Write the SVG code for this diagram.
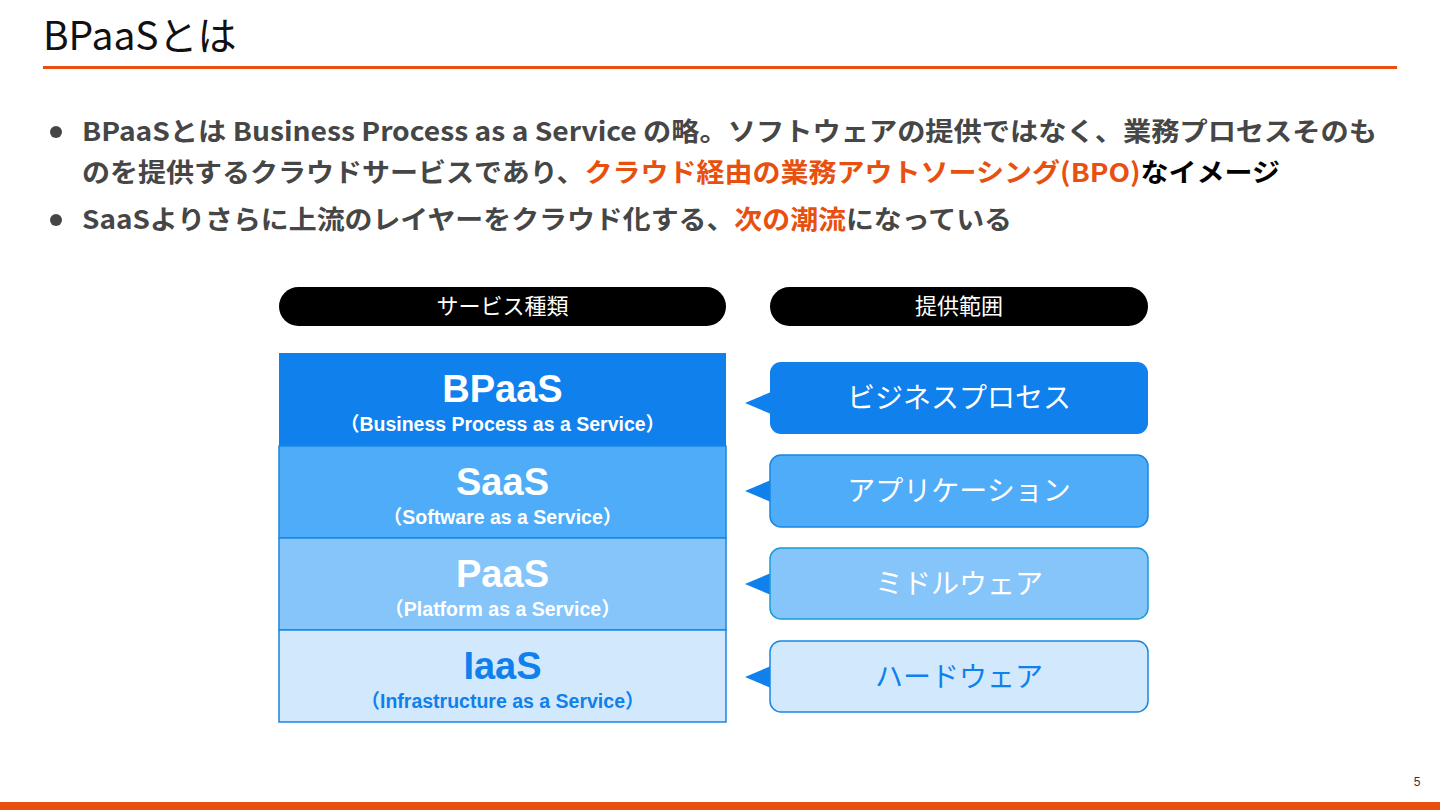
<svg xmlns="http://www.w3.org/2000/svg" width="1440" height="810" viewBox="0 0 1440 810">
<style>
.title{font-family:"Noto Sans CJK JP","Noto Sans",sans-serif;font-size:39px;fill:#111}
.bul{font-family:"Noto Sans CJK JP","Noto Sans",sans-serif;font-size:26px;font-weight:bold;fill:#464646}
.hl{fill:#e8500f}
.blk{fill:#000}
.hdr{font-family:"Noto Sans CJK JP",sans-serif;font-size:22px;fill:#fff;text-anchor:middle}
.big{font-family:"Liberation Sans","Noto Sans CJK JP",sans-serif;font-size:38px;font-weight:bold;text-anchor:middle}
.sub{font-family:"Liberation Sans","Noto Sans CJK JP",sans-serif;font-size:19.5px;font-weight:bold;text-anchor:middle}
.cl{font-family:"Noto Sans CJK JP",sans-serif;font-size:28px;text-anchor:middle}
.ptr{fill:#0f80ec}
</style>
<rect width="1440" height="810" fill="#fff"/>
<text class="title" x="43" y="50">BPaaSとは</text>
<rect x="43" y="66" width="1354" height="3" fill="#e8500f"/>
<rect x="0" y="802" width="1440" height="8" fill="#e8500f"/>
<text x="1417" y="786" font-family="Liberation Sans,sans-serif" font-size="12" fill="#333" text-anchor="middle">5</text>

<g id="bullets">
<circle cx="56" cy="132" r="6" fill="#464646"/>
<text class="bul" x="82" y="141" textLength="1295" lengthAdjust="spacingAndGlyphs">BPaaSとは Business Process as a Service の略。ソフトウェアの提供ではなく、業務プロセスそのも</text>
<text class="bul" x="82" y="182" textLength="1198" lengthAdjust="spacingAndGlyphs">のを提供するクラウドサービスであり、<tspan class="hl">クラウド経由の業務アウトソーシング(BPO)</tspan><tspan class="blk">なイメージ</tspan></text>
<circle cx="56" cy="220" r="6" fill="#464646"/>
<text class="bul" x="82" y="229" textLength="930" lengthAdjust="spacingAndGlyphs">SaaSよりさらに上流のレイヤーをクラウド化する、<tspan class="hl">次の潮流</tspan>になっている</text>
</g>

<g id="hdr-service">
<rect x="279" y="287" width="447" height="39" rx="19.5" fill="#000"/>
<text class="hdr" x="502.5" y="314">サービス種類</text>
</g>
<g id="hdr-scope">
<rect x="770" y="287" width="378" height="39" rx="19.5" fill="#000"/>
<text class="hdr" x="959" y="314">提供範囲</text>
</g>

<g id="layer-bpaas">
<rect x="279" y="353" width="447" height="93" fill="#0f80ec"/>
<text class="big" x="502.5" y="402" fill="#fff">BPaaS</text>
<text class="sub" x="502.5" y="431" fill="#fff">（Business Process as a Service）</text>
</g>
<g id="layer-saas">
<rect x="279" y="446" width="447" height="92" fill="#4eacf8" stroke="#1a86e0" stroke-width="1.5"/>
<text class="big" x="502.5" y="495" fill="#fff">SaaS</text>
<text class="sub" x="502.5" y="524" fill="#fff">（Software as a Service）</text>
</g>
<g id="layer-paas">
<rect x="279" y="538" width="447" height="92" fill="#86c5fa" stroke="#1a86e0" stroke-width="1.5"/>
<text class="big" x="502.5" y="587" fill="#fff">PaaS</text>
<text class="sub" x="502.5" y="616" fill="#fff">（Platform as a Service）</text>
</g>
<g id="layer-iaas">
<rect x="279" y="630" width="447" height="92" fill="#d2e9fd" stroke="#1a86e0" stroke-width="1.5"/>
<text class="big" x="502.5" y="679" fill="#0f80ec">IaaS</text>
<text class="sub" x="502.5" y="708" fill="#0f80ec">（Infrastructure as a Service）</text>
</g>

<g id="connectors">
<polygon class="ptr" points="745,403 771,392 771,414"/>
<polygon class="ptr" points="745,491 771,480 771,502"/>
<polygon class="ptr" points="745,584 771,573 771,595"/>
<polygon class="ptr" points="745,677 771,666 771,688"/>
</g>

<g id="scope-bp">
<rect x="770" y="362" width="378" height="72" rx="11" fill="#0f80ec"/>
<text class="cl" x="959" y="408" fill="#fff">ビジネスプロセス</text>
</g>
<g id="scope-app">
<rect x="770" y="455" width="378" height="72" rx="11" fill="#4eacf8" stroke="#1a86e0" stroke-width="1.5"/>
<text class="cl" x="959" y="501" fill="#fff">アプリケーション</text>
</g>
<g id="scope-mw">
<rect x="770" y="548" width="378" height="71" rx="11" fill="#86c5fa" stroke="#1a9ad6" stroke-width="1.5"/>
<text class="cl" x="959" y="594" fill="#fff">ミドルウェア</text>
</g>
<g id="scope-hw">
<rect x="770" y="641" width="378" height="71" rx="11" fill="#d2e9fd" stroke="#1a86e0" stroke-width="1.5"/>
<text class="cl" x="959" y="687" fill="#0f80ec">ハードウェア</text>
</g>
</svg>
